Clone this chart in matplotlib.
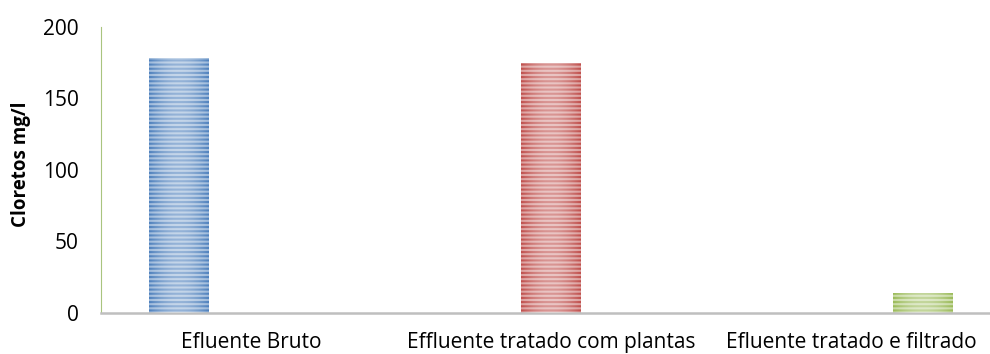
import numpy as np
import matplotlib.pyplot as plt
from matplotlib.colors import to_rgb

plt.rcParams['font.family'] = ['Open Sans', 'DejaVu Sans']
plt.rcParams['hatch.linewidth'] = 1.5

categorias = ["Efluente Bruto", "Effluente tratado com plantas", "Efluente tratado e filtrado"]
cloretos = [178, 175, 14]
cores = ["#4F81BD", "#C0504D", "#9BBB59"]
deslocamentos = [-0.24, 0.0, 0.24]

fig = plt.figure(figsize=(9.9, 3.54), dpi=100)
ax = fig.add_axes([0.102, 0.116, 0.909, 0.808])

x = np.arange(len(categorias))
largura = 0.2


def clarear(cor, f):
    r, g, b = to_rgb(cor)
    return (r + (1 - r) * f, g + (1 - g) * f, b + (1 - b) * f)


for i, (v, cor, d) in enumerate(zip(cloretos, cores, deslocamentos)):
    xc = x[i] + d
    barra = ax.bar(xc, v, width=largura, color=clarear(cor, 0.45),
                   edgecolor=cor, hatch="----", linewidth=0, zorder=2)[0]
    # brilho no meio da barra
    grad = np.abs(np.linspace(-1, 1, 64))
    alpha = (1 - grad ** 2) * 0.4
    img = np.ones((1, 64, 4))
    img[0, :, 3] = alpha
    im = ax.imshow(img, extent=(xc - largura / 2, xc + largura / 2, 0, v),
                   aspect="auto", zorder=3, interpolation="bilinear")
    im.set_clip_path(barra)

ax.set_xlim(-0.5, 2.5)
ax.set_ylim(0, 200)
ax.set_yticks([0, 50, 100, 150, 200])
ax.set_xticks(x)
ax.set_xticklabels(categorias)

ax.spines["top"].set_visible(False)
ax.spines["right"].set_visible(False)
ax.spines["left"].set_color("#A9C47F")
ax.spines["left"].set_linewidth(0.8)
ax.spines["bottom"].set_color("#BFBFBF")
ax.spines["bottom"].set_linewidth(1.8)

ax.tick_params(axis="y", length=0, pad=16, labelsize=15)
ax.tick_params(axis="x", length=0, pad=14, labelsize=15)
ax.set_ylabel("Cloretos mg/l", fontsize=13.5, fontweight="bold")
ax.yaxis.set_label_coords(-0.078, 0.52)

fig.savefig("out.png", dpi=100)
